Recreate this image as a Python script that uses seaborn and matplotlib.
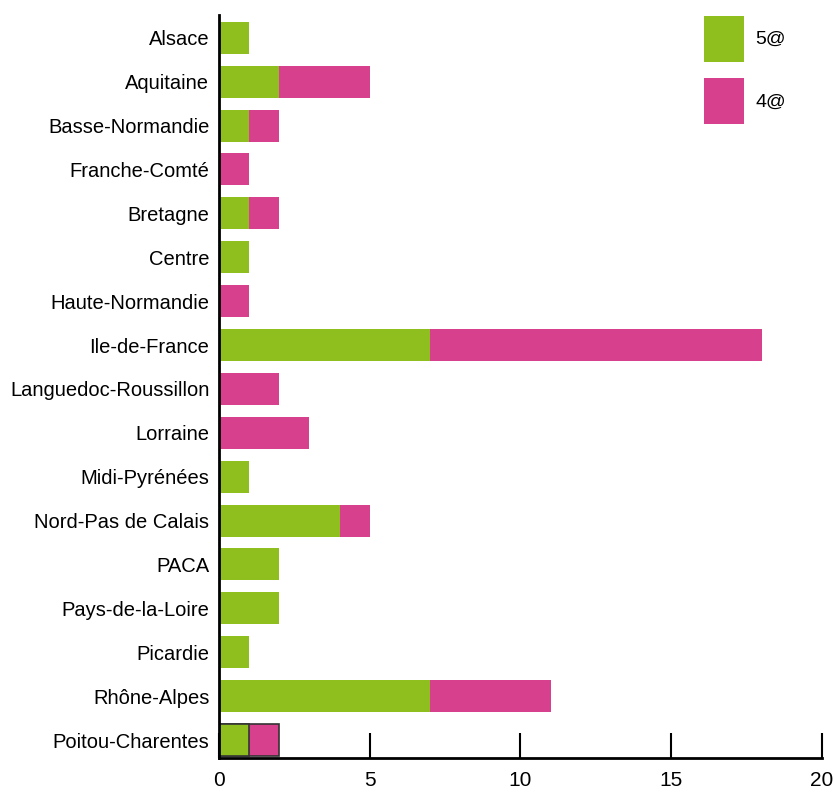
import matplotlib
matplotlib.use("Agg")
import matplotlib.pyplot as plt
import seaborn as sns
import pandas as pd
from matplotlib.patches import Patch

regions = ["Alsace", "Aquitaine", "Basse-Normandie", "Franche-Comté", "Bretagne", "Centre",
           "Haute-Normandie", "Ile-de-France", "Languedoc-Roussillon", "Lorraine", "Midi-Pyrénées",
           "Nord-Pas de Calais", "PACA", "Pays-de-la-Loire", "Picardie", "Rhône-Alpes",
           "Poitou-Charentes"]
green_vals = [1, 2, 1, 0, 1, 1, 0, 7, 0, 0, 1, 4, 2, 2, 1, 7, 1]
pink_vals = [0, 3, 1, 1, 1, 0, 1, 11, 2, 3, 0, 1, 0, 0, 0, 4, 1]
series_labels = ["5@", "4@"]
xticks = [0, 5, 10, 15, 20]

GREEN = "#8fbe1f"
PINK = "#d6408c"

sns.set_style("white")
plt.rcParams['font.family'] = ['Liberation Sans', 'DejaVu Sans']
plt.rcParams['text.color'] = 'black'
plt.rcParams['xtick.color'] = 'black'
plt.rcParams['ytick.color'] = 'black'

df = pd.DataFrame({"region": regions, "green": green_vals, "pink": pink_vals})
df["total"] = df["green"] + df["pink"]

fig = plt.figure(figsize=(8.34, 7.92), dpi=100)
ax = fig.add_axes([219/834, 1 - 758/792, (822-219)/834, (758-15)/792])

sns.barplot(data=df, y="region", x="total", color=PINK, saturation=1, width=0.73,
            orient="h", ax=ax, order=regions, linewidth=0, edgecolor="none")
sns.barplot(data=df, y="region", x="green", color=GREEN, saturation=1, width=0.73,
            orient="h", ax=ax, order=regions, linewidth=0, edgecolor="none")

# Black edges on Poitou-Charentes bars
n = len(regions)
for p in [ax.patches[n - 1], ax.patches[2 * n - 1]]:
    p.set_edgecolor("#333333")
    p.set_linewidth(1.2)

ax.set_xlim(0, 20)
ax.set_ylim(n - 1 + 0.41, -0.52)
ax.set_xticks(xticks)
ax.set_xticklabels([str(t) for t in xticks], fontsize=15)
ax.tick_params(axis="x", bottom=True, direction="in", length=18, width=1.5, pad=9, color="black")
ax.tick_params(axis="y", left=False, length=0, labelsize=14.5, pad=7)
ax.set_xlabel("")
ax.set_ylabel("")
for s in ["top", "right"]:
    ax.spines[s].set_visible(False)
for s in ["left", "bottom"]:
    ax.spines[s].set_color("black")
    ax.spines[s].set_linewidth(2)

handles = [Patch(facecolor=GREEN, edgecolor="none"), Patch(facecolor=PINK, edgecolor="none")]
fig.legend(handles, series_labels, loc="upper left", bbox_to_anchor=(696/834, 1 - 8/792),
           frameon=False, fontsize=14, handlelength=2.05, handleheight=3.25,
           labelspacing=0.85, handletextpad=0.6, borderaxespad=0)

fig.savefig("out.png", dpi=100)
